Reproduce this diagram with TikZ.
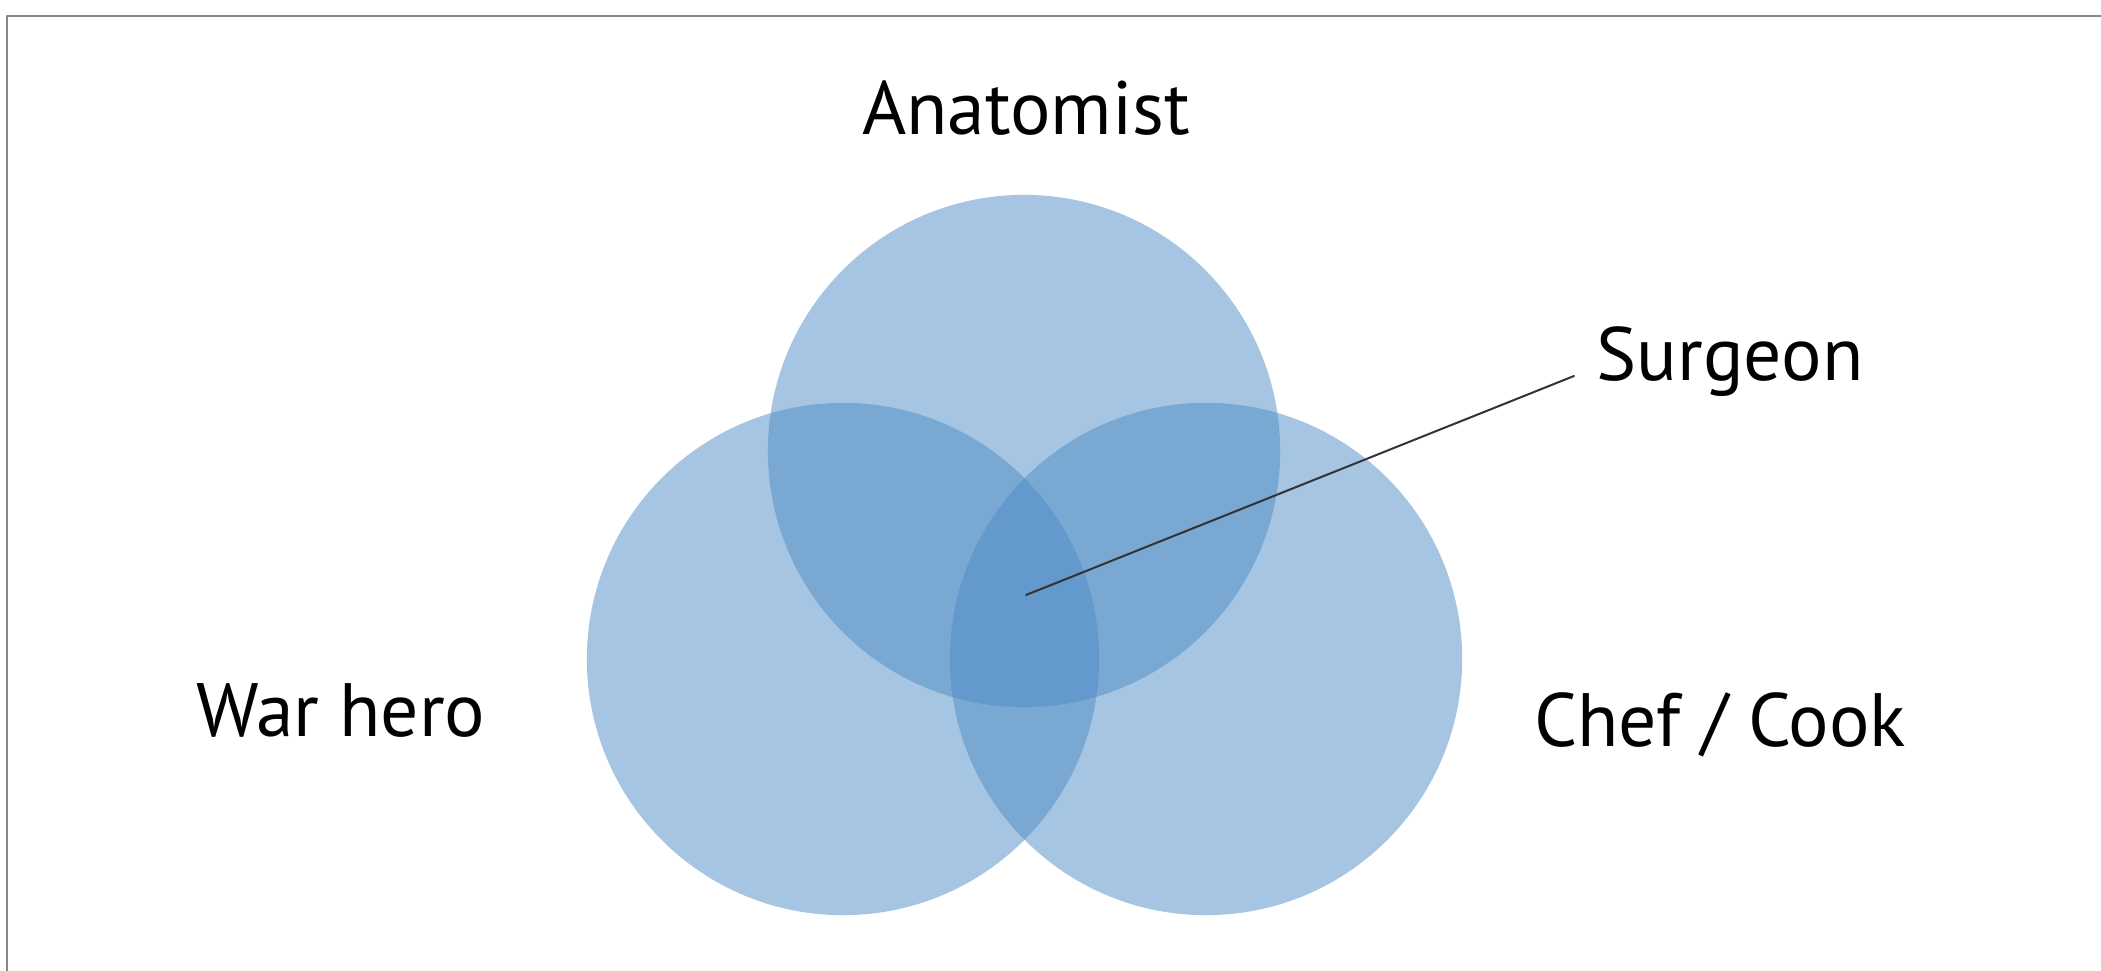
\documentclass[tikz,border=0pt]{standalone}
\usepackage{fontspec}
\setmainfont{PT Sans}
\definecolor{vennblue}{RGB}{77,139,197}
\definecolor{framegray}{RGB}{135,135,135}
\begin{document}
\begin{tikzpicture}[x=0.01cm, y=-0.01cm, font=\fontsize{21.5}{26}\selectfont, line join=round, line cap=round,
	venn/.style={fill=vennblue, fill opacity=0.5},
	lbl/.style={anchor=base, inner sep=0pt}]
	\useasboundingbox (0,0) rectangle (2101,970);
	\draw[framegray, line width=0.25mm] (7,975)--(7,16)--(2110,16);
	% the three circles
	\fill[venn] (1024,451) circle[radius=2.56cm];
	\fill[venn] (843,659) circle[radius=2.56cm];
	\fill[venn] (1206,659) circle[radius=2.56cm];
	% labels
	\path (1026,134) node[lbl] (anatomist) {Anatomist}
		(1730,380) node[lbl] (surgeon) {Surgeon}
		(341,736) node[lbl] (warhero) {War hero}
		(1720,746) node[lbl] (chef) {Chef / Cook};
	\coordinate (core) at (1026,595);
	\coordinate (tip) at (1574,376);
	\draw[black!80, line width=0.2mm] (core)--(tip);
\end{tikzpicture}
\end{document}
